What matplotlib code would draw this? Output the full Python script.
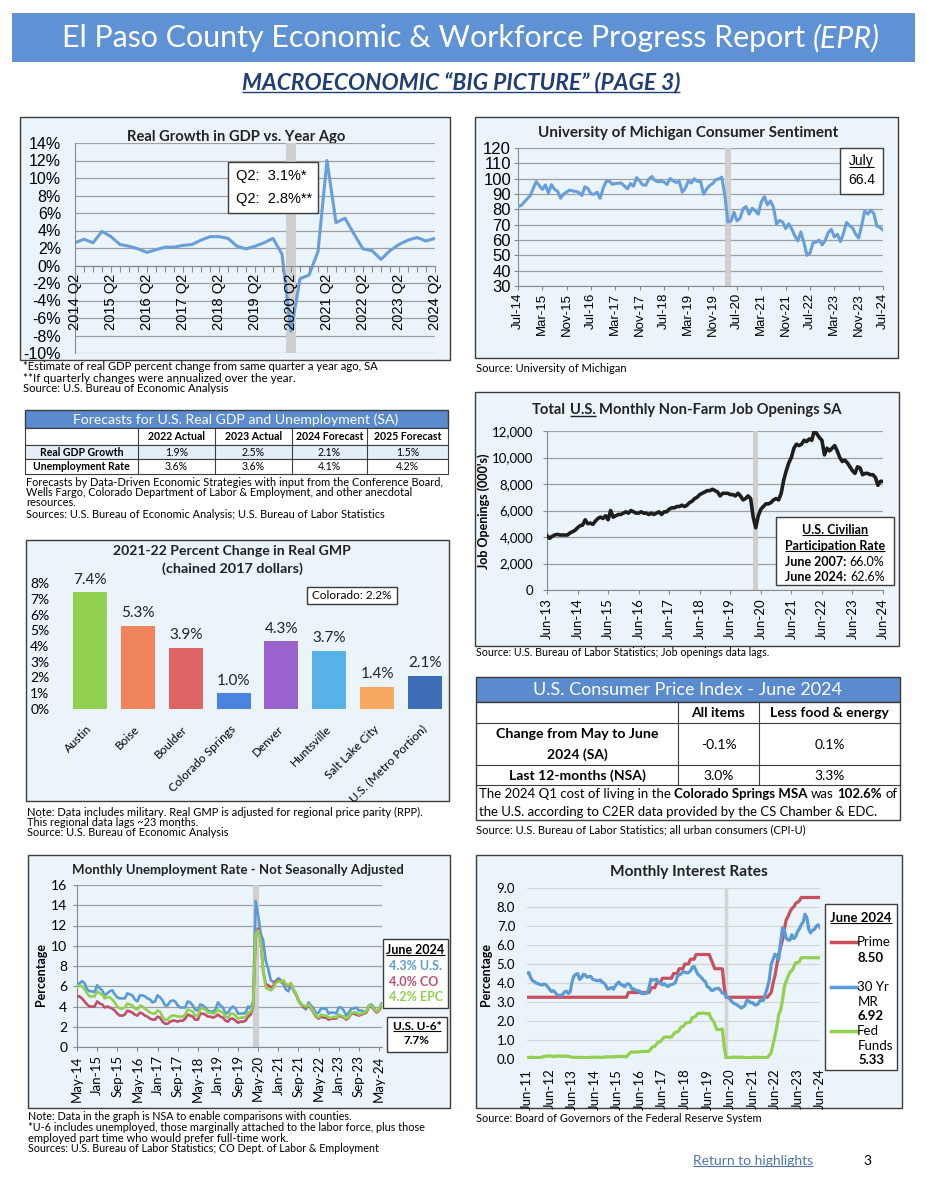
import matplotlib
matplotlib.use('Agg')
import matplotlib.pyplot as plt
from matplotlib.patches import Rectangle

# ======================= DATA =======================
gdp_tick_labels = ['2014 Q2', '2015 Q2', '2016 Q2', '2017 Q2', '2018 Q2', '2019 Q2',
                   '2020 Q2', '2021 Q2', '2022 Q2', '2023 Q2', '2024 Q2']
gdp_growth = [2.6, 3.0, 2.6,
              3.9, 3.3, 2.4, 2.2,
              1.9, 1.5, 1.8, 2.1,
              2.1, 2.3, 2.4, 2.9,
              3.3, 3.3, 3.1, 2.2,
              1.9, 2.2, 2.6, 3.1,
              1.3, -7.5, -1.5, -1.1,
              1.6, 12.0, 4.9, 5.4,
              3.6, 1.9, 1.7, 0.7,
              1.7, 2.4, 2.9, 3.2,
              2.8, 3.1]
gdp_ytick_labels = ['-10%', '-8%', '-6%', '-4%', '-2%', '0%', '2%', '4%', '6%', '8%',
                    '10%', '12%', '14%']

mich_tick_labels = ['Jul-14', 'Mar-15', 'Nov-15', 'Jul-16', 'Mar-17', 'Nov-17', 'Jul-18',
                    'Mar-19', 'Nov-19', 'Jul-20', 'Mar-21', 'Nov-21', 'Jul-22', 'Mar-23',
                    'Nov-23', 'Jul-24']
mich_sentiment = [
    81.8, 82.5, 84.6, 86.9, 88.8, 93.6,
    98.1, 95.4, 93.0, 95.9, 90.7, 96.1, 93.1, 91.9, 87.2, 90.0, 91.3, 92.6,
    92.0, 91.7, 91.0, 89.0, 94.7, 93.5, 90.0, 89.8, 91.2, 87.2, 93.8, 98.2,
    98.5, 96.3, 96.9, 97.0, 97.1, 95.1, 93.4, 96.8, 95.1, 100.7, 98.5, 95.9,
    95.7, 99.7, 101.4, 98.8, 98.0, 98.2, 97.9, 96.2, 100.1, 98.6, 97.5, 98.3,
    91.2, 93.8, 98.4, 97.2, 100.0, 98.2, 98.4, 89.8, 93.2, 95.5, 96.8, 99.3,
    99.8, 101.0, 89.1, 71.8, 72.3, 78.1, 72.5, 74.1, 80.4, 81.8, 76.9, 80.7,
    79.0, 76.8, 84.9, 88.3, 82.9, 85.5, 81.2, 70.3, 72.8, 71.7, 67.4, 70.6,
    67.2, 62.8, 59.4, 65.2, 58.4, 50.0, 51.5, 58.2, 58.6, 59.9, 56.8, 59.7,
    64.9, 67.0, 62.0, 63.7, 59.0, 64.2, 71.5, 69.4, 67.9, 63.8, 61.3, 69.7,
    79.0, 76.9, 79.4, 77.2, 69.1, 68.2, 66.4]

fc_columns = ['2022 Actual', '2023 Actual', '2024 Forecast', '2025 Forecast']
fc_rows = ['Real GDP Growth', 'Unemployment Rate']
fc_gdp = ['1.9%', '2.5%', '2.1%', '1.5%']
fc_unemp = ['3.6%', '3.6%', '4.1%', '4.2%']

gmp_cities = ['Austin', 'Boise', 'Boulder', 'Colorado Springs', 'Denver', 'Huntsville',
              'Salt Lake City', 'U.S. (Metro Portion)']
gmp_change = [7.4, 5.3, 3.9, 1.0, 4.3, 3.7, 1.4, 2.1]
gmp_colors = ['#92D050', '#F0845C', '#DE6464', '#4A84E0', '#9A62CC', '#57B2E8',
              '#F8A860', '#3E6DB5']
gmp_ytick_labels = ['0%', '1%', '2%', '3%', '4%', '5%', '6%', '7%', '8%']

job_tick_labels = ['Jun-13', 'Jun-14', 'Jun-15', 'Jun-16', 'Jun-17', 'Jun-18', 'Jun-19',
                   'Jun-20', 'Jun-21', 'Jun-22', 'Jun-23', 'Jun-24']
job_ytick_labels = ['0', '2,000', '4,000', '6,000', '8,000', '10,000', '12,000']
job_openings = [
    4100, 3900, 4050, 4150, 4200, 4150, 4150,
    4150, 4150, 4300, 4400, 4500, 4700, 4850, 4900, 5300, 5000, 5050, 4950,
    5200, 5400, 5500, 5400, 5600, 5300, 6000, 5500, 5600, 5700, 5700, 5800,
    5900, 5800, 6000, 5900, 5800, 5800, 5900, 5800, 5800, 5700, 5800, 5700,
    5800, 5900, 5700, 5900, 5900, 6100, 6200, 6200, 6300, 6300, 6400, 6300,
    6400, 6600, 6700, 6900, 7000, 7200, 7300, 7400, 7500, 7500, 7600, 7500,
    7400, 7100, 7300, 7300, 7300, 7200, 7200, 7100, 7300, 7100, 6800, 6900,
    7100, 6900, 5500, 4700, 5600, 6100, 6300, 6500, 6500, 6600, 6800, 6900,
    6800, 7300, 8300, 9000, 9600, 10000, 10700, 11000, 10900, 11000, 11300, 11200,
    11400, 11300, 12000, 11800, 11500, 11300, 10200, 10700, 10500, 10700, 10900, 10500,
    10000, 9700, 9800, 9600, 9300, 9000, 8800, 9300, 9200, 8700, 8800, 8800,
    8700, 8700, 8500, 7900, 8200, 8200]

unemp_tick_labels = ['May-14', 'Jan-15', 'Sep-15', 'May-16', 'Jan-17', 'Sep-17', 'May-18',
                     'Jan-19', 'Sep-19', 'May-20', 'Jan-21', 'Sep-21', 'May-22', 'Jan-23',
                     'Sep-23', 'May-24']
unemp_us = [
    6.1, 6.3, 6.5, 6.3, 5.7, 5.5, 5.5, 5.4,
    6.1, 5.8, 5.6, 5.1, 5.3, 5.5, 5.6, 5.2, 4.9, 4.8, 4.8, 4.8,
    5.3, 5.2, 5.1, 4.7, 4.5, 5.1, 5.1, 5.0, 4.8, 4.7, 4.4, 4.5,
    5.1, 4.9, 4.6, 4.1, 4.1, 4.5, 4.6, 4.5, 4.1, 3.9, 3.9, 3.9,
    4.5, 4.4, 4.1, 3.7, 3.6, 4.2, 4.1, 3.9, 3.6, 3.5, 3.5, 3.7,
    4.4, 4.1, 3.9, 3.3, 3.4, 3.8, 4.0, 3.8, 3.3, 3.3, 3.3, 3.4,
    4.0, 3.8, 4.5, 14.4, 13.0, 11.2, 10.5, 8.5, 7.7, 6.6, 6.4, 6.5,
    6.8, 6.6, 6.2, 5.7, 5.5, 6.1, 5.7, 5.3, 4.6, 4.3, 3.9, 3.7,
    4.4, 4.1, 3.8, 3.3, 3.4, 3.8, 3.8, 3.8, 3.3, 3.4, 3.4, 3.3,
    3.9, 3.9, 3.6, 3.1, 3.4, 3.8, 3.8, 3.9, 3.6, 3.6, 3.5, 3.5,
    4.1, 4.2, 3.9, 3.5, 3.7, 4.3]
unemp_co = [
    5.0, 5.0, 4.8, 4.5, 4.2, 4.0, 4.0, 4.0,
    4.5, 4.3, 4.2, 3.9, 4.0, 3.9, 3.8, 3.6, 3.3, 3.1, 3.1, 3.2,
    3.6, 3.5, 3.4, 3.2, 3.1, 3.4, 3.3, 3.1, 3.0, 2.8, 2.7, 2.7,
    3.0, 2.9, 2.5, 2.3, 2.3, 2.5, 2.6, 2.6, 2.5, 2.6, 2.6, 2.8,
    3.2, 3.1, 3.0, 2.7, 2.7, 3.3, 3.3, 3.2, 3.0, 3.0, 2.9, 3.0,
    3.2, 3.0, 2.9, 2.6, 2.5, 2.8, 2.8, 2.6, 2.4, 2.5, 2.5, 2.6,
    3.0, 3.2, 4.0, 11.0, 11.7, 10.5, 7.5, 6.2, 6.1, 5.9, 6.0, 6.5,
    6.6, 6.4, 6.5, 6.2, 6.0, 6.3, 5.6, 5.2, 4.6, 4.2, 4.0, 3.9,
    4.1, 3.8, 3.4, 3.0, 2.8, 3.0, 2.9, 2.9, 2.7, 2.8, 2.8, 2.8,
    3.1, 3.0, 2.9, 2.7, 2.9, 3.3, 3.3, 3.2, 3.1, 3.2, 3.3, 3.4,
    4.0, 4.0, 3.7, 3.4, 3.6, 4.0]
unemp_epc = [
    5.9, 6.1, 6.0, 5.7, 5.3, 5.0, 5.0, 5.0,
    5.5, 5.3, 5.2, 4.8, 4.9, 4.9, 4.7, 4.4, 4.0, 3.8, 3.8, 3.9,
    4.3, 4.2, 4.1, 3.8, 3.7, 4.1, 4.0, 3.8, 3.6, 3.4, 3.3, 3.3,
    3.6, 3.5, 3.0, 2.7, 2.7, 3.0, 3.1, 3.1, 3.0, 3.0, 3.0, 3.2,
    3.7, 3.6, 3.5, 3.1, 3.1, 3.8, 3.8, 3.7, 3.4, 3.4, 3.3, 3.4,
    3.7, 3.5, 3.4, 3.0, 2.9, 3.3, 3.3, 3.1, 2.8, 2.9, 2.9, 3.0,
    3.4, 3.5, 4.2, 11.2, 11.5, 10.5, 7.5, 5.9, 5.7, 5.6, 5.8, 6.3,
    6.5, 6.4, 6.6, 6.2, 6.1, 6.3, 5.7, 5.3, 4.6, 4.2, 4.1, 4.0,
    4.2, 3.9, 3.5, 3.1, 2.9, 3.2, 3.1, 3.1, 2.9, 2.9, 3.0, 2.9,
    3.2, 3.1, 3.0, 2.8, 3.0, 3.4, 3.4, 3.4, 3.2, 3.3, 3.4, 3.5,
    4.1, 4.1, 3.8, 3.5, 3.7, 4.2]

rate_tick_labels = ['Jun-11', 'Jun-12', 'Jun-13', 'Jun-14', 'Jun-15', 'Jun-16', 'Jun-17',
                    'Jun-18', 'Jun-19', 'Jun-20', 'Jun-21', 'Jun-22', 'Jun-23', 'Jun-24']
rate_ytick_labels = ['0.0', '1.0', '2.0', '3.0', '4.0', '5.0', '6.0', '7.0', '8.0', '9.0']
prime_rate = [
    3.25, 3.25, 3.25, 3.25, 3.25, 3.25, 3.25,
    3.25, 3.25, 3.25, 3.25, 3.25, 3.25, 3.25, 3.25, 3.25, 3.25, 3.25, 3.25,
    3.25, 3.25, 3.25, 3.25, 3.25, 3.25, 3.25, 3.25, 3.25, 3.25, 3.25, 3.25,
    3.25, 3.25, 3.25, 3.25, 3.25, 3.25, 3.25, 3.25, 3.25, 3.25, 3.25, 3.25,
    3.25, 3.25, 3.25, 3.25, 3.25, 3.25, 3.25, 3.25, 3.25, 3.25, 3.25, 3.50,
    3.50, 3.50, 3.50, 3.50, 3.50, 3.50, 3.50, 3.50, 3.50, 3.50, 3.50, 3.75,
    3.75, 3.75, 4.00, 4.00, 4.00, 4.25, 4.25, 4.25, 4.25, 4.25, 4.25, 4.50,
    4.50, 4.50, 4.75, 4.75, 4.75, 5.00, 5.00, 5.00, 5.25, 5.25, 5.25, 5.50,
    5.50, 5.50, 5.50, 5.50, 5.50, 5.50, 5.50, 5.25, 5.00, 4.75, 4.75, 4.75,
    4.75, 4.75, 3.78, 3.25, 3.25, 3.25, 3.25, 3.25, 3.25, 3.25, 3.25, 3.25,
    3.25, 3.25, 3.25, 3.25, 3.25, 3.25, 3.25, 3.25, 3.25, 3.25, 3.25, 3.25,
    3.25, 3.25, 3.37, 3.50, 3.98, 4.38, 4.95, 5.50, 5.88, 6.25, 6.82, 7.32,
    7.50, 7.74, 7.92, 8.00, 8.18, 8.25, 8.32, 8.50, 8.50, 8.50, 8.50, 8.50,
    8.50, 8.50, 8.50, 8.50, 8.50, 8.50]
mortgage_30yr = [
    4.51, 4.55, 4.27, 4.11, 4.07, 3.99, 3.96,
    3.92, 3.89, 3.95, 3.91, 3.80, 3.68, 3.55, 3.60, 3.50, 3.38, 3.35, 3.35,
    3.41, 3.53, 3.57, 3.45, 3.54, 4.07, 4.37, 4.46, 4.49, 4.19, 4.26, 4.46,
    4.43, 4.30, 4.34, 4.34, 4.19, 4.16, 4.13, 4.12, 4.16, 4.04, 4.00, 3.86,
    3.67, 3.71, 3.77, 3.67, 3.84, 3.98, 4.05, 3.91, 3.89, 3.80, 3.94, 3.96,
    3.87, 3.66, 3.69, 3.61, 3.60, 3.57, 3.44, 3.44, 3.46, 3.47, 3.77, 4.20,
    4.15, 4.17, 4.20, 4.05, 4.01, 3.90, 3.97, 3.88, 3.81, 3.90, 3.92, 3.95,
    4.03, 4.33, 4.44, 4.47, 4.59, 4.57, 4.53, 4.55, 4.63, 4.83, 4.87, 4.64,
    4.46, 4.37, 4.27, 4.14, 4.07, 3.80, 3.77, 3.62, 3.61, 3.69, 3.70, 3.72,
    3.62, 3.47, 3.45, 3.31, 3.23, 3.16, 3.02, 2.94, 2.89, 2.83, 2.77, 2.68,
    2.74, 2.81, 3.08, 3.06, 2.96, 2.98, 2.87, 2.84, 2.90, 3.07, 3.07, 3.10,
    3.45, 3.76, 4.17, 4.98, 5.23, 5.52, 5.41, 5.22, 6.11, 6.90, 6.80, 6.36,
    6.27, 6.26, 6.54, 6.34, 6.43, 6.71, 6.84, 7.07, 7.20, 7.62, 7.44, 6.82,
    6.64, 6.78, 6.82, 6.99, 7.06, 6.92]
fed_funds = [
    0.09, 0.07, 0.10, 0.08, 0.07, 0.08, 0.07,
    0.08, 0.10, 0.13, 0.14, 0.16, 0.16, 0.16, 0.13, 0.14, 0.16, 0.16, 0.16,
    0.14, 0.15, 0.14, 0.15, 0.11, 0.09, 0.09, 0.08, 0.08, 0.09, 0.08, 0.09,
    0.07, 0.07, 0.08, 0.09, 0.09, 0.10, 0.09, 0.09, 0.09, 0.09, 0.09, 0.12,
    0.11, 0.11, 0.11, 0.12, 0.12, 0.13, 0.13, 0.14, 0.14, 0.12, 0.12, 0.24,
    0.34, 0.38, 0.36, 0.37, 0.37, 0.38, 0.39, 0.40, 0.40, 0.40, 0.41, 0.54,
    0.65, 0.66, 0.79, 0.90, 0.91, 1.04, 1.15, 1.16, 1.15, 1.15, 1.16, 1.30,
    1.41, 1.42, 1.51, 1.69, 1.70, 1.82, 1.91, 1.91, 1.95, 2.19, 2.20, 2.27,
    2.40, 2.40, 2.41, 2.42, 2.39, 2.38, 2.40, 2.13, 2.04, 1.83, 1.55, 1.55,
    1.55, 1.58, 0.65, 0.05, 0.05, 0.08, 0.09, 0.10, 0.09, 0.09, 0.09, 0.09,
    0.09, 0.08, 0.07, 0.07, 0.06, 0.08, 0.10, 0.09, 0.08, 0.08, 0.08, 0.08,
    0.08, 0.08, 0.20, 0.33, 0.77, 1.21, 1.68, 2.33, 2.56, 3.08, 3.78, 4.10,
    4.33, 4.57, 4.65, 4.83, 5.06, 5.08, 5.12, 5.33, 5.33, 5.33, 5.33, 5.33,
    5.33, 5.33, 5.33, 5.33, 5.33, 5.33]

cpi_columns = ['All items', 'Less food & energy']
cpi_month = ['-0.1%', '0.1%']
cpi_year = ['3.0%', '3.3%']

# ======================= FIGURE =======================
W, H = 927, 1200
SANS = ['Lato', 'DejaVu Sans']
ARIAL = ['Liberation Sans', 'DejaVu Sans']
plt.rcParams['font.family'] = SANS
plt.rcParams['axes.unicode_minus'] = False

fig = plt.figure(figsize=(W / 100, H / 100), dpi=100)
fig.patch.set_facecolor('white')
R = fig.canvas.get_renderer()

bg = fig.add_axes([0, 0, 1, 1], zorder=0)
bg.set_xlim(0, W); bg.set_ylim(H, 0); bg.axis('off')
ov = fig.add_axes([0, 0, 1, 1], zorder=10)
ov.set_xlim(0, W); ov.set_ylim(H, 0); ov.axis('off'); ov.patch.set_visible(False)

PANEL = '#EAF4FA'
EDGE = '#3C3C3C'
BLUE_HDR = '#5A8BCF'


def rect(target, x0, y0, x1, y1, fc='none', ec=EDGE, lw=1.0, z=1):
    target.add_patch(Rectangle((x0, y0), x1 - x0, y1 - y0, facecolor=fc,
                               edgecolor=ec, linewidth=lw, zorder=z))


def wpx(t):
    return t.get_window_extent(R).width


_sw = {}


def space_w(size, wgt, sty, fam):
    key = (round(size, 3), wgt, sty, str(fam))
    if key not in _sw:
        t1 = bg.text(0, 0, 'n n', fontsize=size, fontweight=wgt, fontstyle=sty, **fam)
        t2 = bg.text(0, 0, 'nn', fontsize=size, fontweight=wgt, fontstyle=sty, **fam)
        _sw[key] = wpx(t1) - wpx(t2)
        t1.remove(); t2.remove()
    return _sw[key]


def underline(target, t, color=None, lw=0.8):
    bb = t.get_window_extent(R)
    y = H - bb.y0 - 0.10 * t.get_fontsize() * 100 / 72
    target.plot([bb.x0, bb.x1], [y, y], color=color or t.get_color(), lw=lw,
                solid_capstyle='butt', zorder=7)


def rich(target, x, y, parts, size, ha='left', va='center', color='black',
         family=None, fit=None):
    fam = {'family': family} if family else {}
    items = []
    for p in parts:
        s, wgt, sty = p[0], p[1], p[2]
        col = p[3] if len(p) > 3 else color
        core = s.strip()
        t = target.text(0, y, core, fontsize=size, fontweight=wgt, fontstyle=sty,
                        ha='left', va=va, color=col, zorder=6, **fam)
        items.append((t, len(s) - len(s.lstrip()), len(s) - len(s.rstrip()), wgt, sty))

    def layout():
        out = []
        for t, l, r, wgt, sty in items:
            sw = space_w(t.get_fontsize(), wgt, sty, fam)
            out.append((l * sw, wpx(t), r * sw))
        return out
    ws = layout()
    total = sum(a + b + c for a, b, c in ws)
    if fit:
        k = fit / total
        for it in items:
            it[0].set_fontsize(it[0].get_fontsize() * k)
        ws = layout()
        total = sum(a + b + c for a, b, c in ws)
    start = {'left': x, 'center': x - total / 2, 'right': x - total}[ha]
    cx = start
    for it, (a, b, c) in zip(items, ws):
        it[0].set_x(cx + a)
        cx += a + b + c
    return [it[0] for it in items]


def T(target, x, y, s, size, ha='left', va='center', weight='normal', style='normal',
      color='black', family=None, fit=None, ul=False):
    t = rich(target, x, y, [(s, weight, style)], size, ha=ha, va=va, color=color,
             family=family, fit=fit)[0]
    if ul:
        underline(target, t)
    return t


def ax_px(x0, y0, x1, y1):
    a = fig.add_axes([x0 / W, 1 - y1 / H, (x1 - x0) / W, (y1 - y0) / H], zorder=3)
    a.patch.set_visible(False)
    return a


# ---------------- Header ----------------
rect(bg, 12, 13, 915, 62, fc='#5F92D4', ec='none', lw=0)
rich(bg, 471, 38, [('El Paso County Economic & Workforce Progress Report ', 'normal', 'normal'),
                   ('(EPR)', 'normal', 'italic')], 24, ha='center', color='white', fit=818)
sub = T(bg, 461, 83, 'MACROECONOMIC \u201cBIG PICTURE\u201d (PAGE 3)', 13, ha='center',
        weight='bold', style='italic', color='#213E73', fit=437)
underline(bg, sub, lw=1.0)

# ---------------- GDP chart ----------------
rect(bg, 20, 117, 450, 360, fc=PANEL, lw=1.0)
T(bg, 236, 137, 'Real Growth in GDP vs. Year Ago', 11, ha='center', weight='bold',
  color='#222222', fit=218)
ax = ax_px(75, 143, 435, 353)
for s in ('top', 'right'):
    ax.spines[s].set_visible(False)
ax.spines['bottom'].set_position(('data', 0))
ax.spines['bottom'].set_color('#8A8A8A')
ax.spines['left'].set_color('#8A8A8A')
gx = list(range(len(gdp_growth)))
ax.axvspan(23.4, 24.6, color='#CFCFCF', lw=0, zorder=1)
ax.plot(gx, gdp_growth, color='#6A9ED8', lw=2.2, zorder=2, solid_joinstyle='round')
ax.set_xlim(0, len(gdp_growth) - 1)
ax.set_ylim(-10, 14)
ax.set_yticks(range(-10, 15, 2))
ax.set_yticklabels(gdp_ytick_labels, fontsize=11.5, family=ARIAL)
ax.set_xticks(gx)
ax.set_xticklabels([gdp_tick_labels[i // 4] if i % 4 == 0 else '' for i in gx],
                   rotation=90, fontsize=10.5, family=ARIAL)
ax.grid(axis='y', color='#A0A0A0', lw=0.9)
ax.set_axisbelow(True)
ax.xaxis.set_zorder(5)
ax.tick_params(axis='x', length=4, color='#8A8A8A', pad=2)
ax.tick_params(axis='y', length=0, pad=10)
rect(ov, 228, 162, 318, 213, fc='white', ec=EDGE, lw=1.0, z=5)
T(ov, 236, 176, 'Q2:  3.1%*', 10.5, family=ARIAL)
T(ov, 236, 199, 'Q2:  2.8%**', 10.5, family=ARIAL)
T(bg, 23, 367, '*Estimate of real GDP percent change from same quarter a year ago, SA', 7.5,
  fit=354)
T(bg, 23, 378, '**If quarterly changes were annualized over the year.', 7.5, fit=269)
T(bg, 23, 389, 'Source: U.S. Bureau of Economic Analysis', 7.5, fit=205)

# ---------------- Michigan chart ----------------
rect(bg, 475, 117, 898, 358, fc=PANEL, lw=1.0)
T(bg, 688, 133, 'University of Michigan Consumer Sentiment', 11, ha='center',
  weight='bold', color='#222222', fit=301)
ax = ax_px(518, 148, 883, 286)
mx = list(range(len(mich_sentiment)))
ax.axvspan(68, 70, color='#CFCFCF', lw=0, zorder=1)
ax.plot(mx, mich_sentiment, color='#6A9ED8', lw=2.2, zorder=4, solid_joinstyle='round')
ax.set_xlim(0, len(mich_sentiment) - 1)
ax.set_ylim(30, 120)
ax.set_yticks(range(30, 121, 10))
ax.set_yticklabels([str(v) for v in range(30, 121, 10)], fontsize=12, family=ARIAL)
ax.set_xticks(range(0, len(mich_sentiment), 8))
ax.set_xticklabels(mich_tick_labels, rotation=90, fontsize=9.5, family=ARIAL)
ax.grid(axis='y', color='#A0A0A0', lw=0.9)
ax.set_axisbelow(True)
for s in ('top', 'right'):
    ax.spines[s].set_visible(False)
ax.spines['bottom'].set_color('#8A8A8A')
ax.spines['left'].set_color('#8A8A8A')
ax.tick_params(length=3, color='#8A8A8A', pad=2)
rect(ov, 840, 148, 883, 194, fc='white', ec=EDGE, lw=1.0, z=5)
T(ov, 861.5, 161, 'July', 10, ha='center', family=ARIAL, ul=True)
T(ov, 861.5, 180, '66.4', 10, ha='center', family=ARIAL)
T(bg, 476, 368, 'Source: University of Michigan', 7.5, fit=150)

# ---------------- Forecast table ----------------
tx = [25, 138, 215, 292, 367, 448]
ty = [410, 428, 445, 459, 474]
rect(bg, tx[0], ty[0], tx[-1], ty[1], fc=BLUE_HDR, ec=EDGE, lw=1.0)
T(bg, 236, 419.5, 'Forecasts for U.S. Real GDP and Unemployment (SA)', 11, ha='center',
  color='white', fit=325)
rect(bg, tx[0], ty[1], tx[-1], ty[2], fc='#FFFFFF', ec=EDGE, lw=0.8)
rect(bg, tx[0], ty[2], tx[-1], ty[3], fc='#E3EEF8', ec=EDGE, lw=0.8)
rect(bg, tx[0], ty[3], tx[-1], ty[4], fc='#FFFFFF', ec=EDGE, lw=0.8)
for xv in tx[1:-1]:
    bg.plot([xv, xv], [ty[1], ty[4]], color=EDGE, lw=0.8, zorder=2)
for i, lab in enumerate(fc_columns):
    T(bg, (tx[i + 1] + tx[i + 2]) / 2, (ty[1] + ty[2]) / 2, lab, 7.6, ha='center',
      weight='bold')
for r, (lab, vals) in enumerate(zip(fc_rows, [fc_gdp, fc_unemp])):
    yc = (ty[r + 2] + ty[r + 3]) / 2
    T(bg, (tx[0] + tx[1]) / 2, yc, lab, 7.6, ha='center', weight='bold')
    for i, v in enumerate(vals):
        T(bg, (tx[i + 1] + tx[i + 2]) / 2, yc, v, 7.6, ha='center')
T(bg, 26, 482, 'Forecasts by Data-Driven Economic Strategies with input from the Conference '
  'Board,', 8, fit=417)
T(bg, 26, 492.5, 'Wells Fargo, Colorado Department of Labor & Employment, and other anecdotal',
  8, fit=387)
T(bg, 26, 503, 'resources.', 8)
T(bg, 26, 514, 'Sources: U.S. Bureau of Economic Analysis; U.S. Bureau of Labor Statistics', 8,
  fit=361)

# ---------------- GMP bar chart ----------------
rect(bg, 26, 540, 449, 801, fc=PANEL, lw=1.0)
T(bg, 232, 551, '2021-22 Percent Change in Real GMP', 11.5, ha='center', weight='bold',
  color='#222222', fit=237)
T(bg, 232, 569, '(chained 2017 dollars)', 11.5, ha='center', weight='bold', color='#222222',
  fit=141)
ax = ax_px(66, 583, 449, 709)
bars = ax.bar(range(len(gmp_change)), gmp_change, width=0.71, color=gmp_colors, zorder=3)
ax.bar_label(bars, labels=[f'{v:.1f}%' for v in gmp_change], padding=4, fontsize=11,
             color='#222222')
ax.set_xlim(-0.5, len(gmp_change) - 0.5)
ax.set_ylim(0, 8)
ax.set_yticks(range(0, 9))
ax.set_yticklabels(gmp_ytick_labels, fontsize=10)
ax.set_xticks(range(len(gmp_cities)))
ax.set_xticklabels(gmp_cities, rotation=45, ha='right', va='center',
                   rotation_mode='anchor', fontsize=8.5)
for s in ax.spines.values():
    s.set_visible(False)
ax.tick_params(length=0)
ax.tick_params(axis='y', pad=12)
ax.tick_params(axis='x', pad=13)
rect(ov, 307, 587, 397, 604, fc='white', ec=EDGE, lw=1.0, z=5)
T(ov, 352, 595.5, 'Colorado: 2.2%', 8.5, ha='center')
T(bg, 27, 812, 'Note: Data includes military. Real GMP is adjusted for regional price parity '
  '(RPP).', 8, fit=396)
T(bg, 27, 822.5, 'This regional data lags ~23 months.', 8, fit=171)
T(bg, 27, 833, 'Source: U.S. Bureau of Economic Analysis', 8, fit=201)

# ---------------- Job openings chart ----------------
rect(bg, 475, 392, 899, 646, fc=PANEL, lw=1.0)
jt = rich(bg, 687, 410, [('Total ', 'bold', 'normal'), ('U.S.', 'bold', 'normal'),
                         (' Monthly Non-Farm Job Openings SA', 'bold', 'normal')],
          11, ha='center', color='#222222', fit=309)
underline(bg, jt[1], lw=1.0)
ax = ax_px(547, 431, 883, 590)
jx = list(range(len(job_openings)))
ax.axvspan(81, 83, color='#CFCFCF', lw=0, zorder=1)
ax.plot(jx, job_openings, color='#1E1E1E', lw=2.6, zorder=4, solid_joinstyle='round')
ax.set_xlim(0, len(job_openings) - 1)
ax.set_ylim(0, 12000)
ax.set_yticks(range(0, 12001, 2000))
ax.set_yticklabels(job_ytick_labels, fontsize=9.5)
ax.set_xticks(range(0, len(job_openings), 12))
ax.set_xticklabels(job_tick_labels, rotation=90, fontsize=9.5)
ax.grid(axis='y', color='#A0A0A0', lw=0.9)
ax.set_axisbelow(True)
for s in ('top', 'right'):
    ax.spines[s].set_visible(False)
ax.spines['bottom'].set_color('#8A8A8A')
ax.spines['left'].set_color('#8A8A8A')
ax.tick_params(length=3, color='#8A8A8A', pad=3)
ax.tick_params(axis='y', pad=7)
bg.text(484, 511, "Job Openings (000's)", fontsize=9, fontweight='bold', rotation=90,
        ha='center', va='center', zorder=6)
rect(ov, 776, 517, 894, 585, fc='white', ec=EDGE, lw=1.0, z=5)
T(ov, 835, 530, 'U.S. Civilian', 9, ha='center', weight='bold', ul=True)
T(ov, 835, 546, 'Participation Rate', 9, ha='center', weight='bold', ul=True)
rich(ov, 835, 561.5, [('June 2007: ', 'bold', 'normal'), ('66.0%', 'normal', 'normal')], 9,
     ha='center')
rich(ov, 835, 577, [('June 2024: ', 'bold', 'normal'), ('62.6%', 'normal', 'normal')], 9,
     ha='center')
T(bg, 476, 653, 'Source: U.S. Bureau of Labor Statistics; Job openings data lags.', 8, fit=293)

# ---------------- CPI table ----------------
cx = [476, 678, 759, 900]
cy = [677, 702, 723, 765, 785, 820]
rect(bg, cx[0], cy[0], cx[-1], cy[1], fc=BLUE_HDR, ec=EDGE, lw=1.0)
T(bg, 688, 690, 'U.S. Consumer Price Index - June 2024', 13, ha='center', color='white',
  fit=309)
rect(bg, cx[0], cy[1], cx[-1], cy[-1], fc='white', ec=EDGE, lw=1.0)
for yv in cy[2:-1]:
    bg.plot([cx[0], cx[-1]], [yv, yv], color=EDGE, lw=0.8, zorder=2)
for xv in cx[1:-1]:
    bg.plot([xv, xv], [cy[1], cy[4]], color=EDGE, lw=0.8, zorder=2)
for i, lab in enumerate(cpi_columns):
    T(bg, (cx[i + 1] + cx[i + 2]) / 2, 713, lab, 10, ha='center', weight='bold')
T(bg, 577, 734, 'Change from May to June', 10, ha='center', weight='bold', fit=163)
T(bg, 577, 755, '2024 (SA)', 10, ha='center', weight='bold', fit=61)
T(bg, 577, 776, 'Last 12-months (NSA)', 10, ha='center', weight='bold', fit=137)
for i in range(2):
    xc = (cx[i + 1] + cx[i + 2]) / 2
    T(bg, xc, 745, cpi_month[i], 10, ha='center')
    T(bg, xc, 776, cpi_year[i], 10, ha='center')
rich(bg, 479, 794.5, [('The 2024 Q1 cost of living in the ', 'normal', 'normal'),
                      ('Colorado Springs MSA', 'bold', 'normal'),
                      (' was ', 'normal', 'normal'), ('102.6%', 'bold', 'normal'),
                      (' of', 'normal', 'normal')], 10, fit=418)
T(bg, 479, 811.5, 'the U.S. according to C2ER data provided by the CS Chamber & EDC.', 10,
  fit=399)
T(bg, 476, 830, 'Source: U.S. Bureau of Labor Statistics; all urban consumers (CPI-U)', 8,
  fit=330)

# ---------------- Unemployment chart ----------------
rect(bg, 28, 855, 450, 1108, fc=PANEL, lw=1.0)
T(bg, 238, 870, 'Monthly Unemployment Rate - Not Seasonally Adjusted', 10.5, ha='center',
  weight='bold', color='#222222', fit=331)
ax = ax_px(77, 885, 381.5, 1047)
ux = list(range(len(unemp_us)))
ax.axvspan(70, 72.3, color='#CFCFCF', lw=0, zorder=1)
ax.plot(ux, unemp_us, color='#5B9BD5', lw=1.9, zorder=4)
ax.plot(ux, unemp_co, color='#C0506A', lw=1.9, zorder=5)
ax.plot(ux, unemp_epc, color='#92D050', lw=1.9, zorder=6)
ax.set_xlim(0, len(unemp_us) - 1)
ax.set_ylim(0, 16)
ax.set_yticks(range(0, 17, 2))
ax.set_yticklabels([str(v) for v in range(0, 17, 2)], fontsize=10)
ax.set_xticks(range(0, len(unemp_us), 8))
ax.set_xticklabels(unemp_tick_labels, rotation=90, fontsize=9.5)
ax.grid(axis='y', color='#A0A0A0', lw=0.9)
ax.set_axisbelow(True)
for s in ('top', 'right'):
    ax.spines[s].set_visible(False)
ax.spines['bottom'].set_color('#8A8A8A')
ax.spines['left'].set_color('#8A8A8A')
ax.tick_params(length=3, color='#8A8A8A', pad=3)
ax.tick_params(axis='y', pad=4)
bg.text(41, 975, 'Percentage', fontsize=9, fontweight='bold', rotation=90,
        ha='center', va='center', zorder=6)
rect(ov, 383, 939, 448, 1008, fc='white', ec=EDGE, lw=1.0, z=5)
T(ov, 415.5, 950, 'June 2024', 9, ha='center', weight='bold', ul=True)
T(ov, 389, 966, '4.3% U.S.', 9, weight='bold', color='#5B9BD5')
T(ov, 389, 981.5, '4.0% CO', 9, weight='bold', color='#C0506A')
T(ov, 389, 997, '4.2% EPC', 9, weight='bold', color='#92D050')
rect(ov, 387, 1017, 447, 1052, fc='white', ec=EDGE, lw=1.0, z=5)
T(ov, 417, 1027, 'U.S. U-6*', 8.5, ha='center', weight='bold', ul=True)
T(ov, 417, 1041, '7.7%', 8.5, ha='center', weight='bold')
T(bg, 28, 1117, 'Note: Data in the graph is NSA to enable comparisons with counties.', 8,
  fit=324)
T(bg, 28, 1127.5, '*U-6 includes unemployed, those marginally attached to the labor force, '
  'plus those', 8, fit=399)
T(bg, 28, 1138, 'employed part time who would prefer full-time work.', 8, fit=260)
T(bg, 28, 1149, 'Sources: U.S. Bureau of Labor Statistics; CO Dept. of Labor & Employment', 8,
  fit=352)

# ---------------- Interest rates chart ----------------
rect(bg, 476, 855, 902, 1108, fc=PANEL, lw=1.0)
T(bg, 689, 872, 'Monthly Interest Rates', 11, ha='center', weight='bold', color='#222222',
  fit=157)
ax = ax_px(527, 888, 820, 1059)
ix = list(range(len(prime_rate)))
ax.axvline(106, color='#D4D4D4', lw=2.5, zorder=1)
ax.plot(ix, fed_funds, color='#92D050', lw=2.3, zorder=4)
ax.plot(ix, prime_rate, color='#C8505E', lw=2.3, zorder=5)
ax.plot(ix, mortgage_30yr, color='#5B9BD5', lw=2.3, zorder=6)
ax.set_xlim(0, len(prime_rate) - 1)
ax.set_ylim(0, 9)
ax.set_yticks(range(0, 10))
ax.set_yticklabels(rate_ytick_labels, fontsize=9.5)
ax.set_xticks(range(0, len(prime_rate), 12))
ax.set_xticklabels(rate_tick_labels, rotation=90, fontsize=9.5)
ax.grid(axis='y', color='#D6D6D6', lw=0.9)
ax.set_axisbelow(True)
for s in ax.spines.values():
    s.set_visible(False)
ax.tick_params(length=0)
ax.tick_params(axis='y', pad=8.5)
ax.tick_params(axis='x', pad=7)
bg.text(486, 975, 'Percentage', fontsize=9, fontweight='bold', rotation=90,
        ha='center', va='center', zorder=6)
rect(ov, 825, 904, 897, 1070, fc='white', ec=EDGE, lw=1.0, z=5)
T(ov, 861, 918, 'June 2024', 9.5, ha='center', weight='bold', ul=True)
ov.plot([831, 857], [942, 942], color='#C8505E', lw=2.5, zorder=6)
T(ov, 857, 942, 'Prime', 9.5)
T(ov, 858, 958, '8.50', 9.5, weight='bold')
ov.plot([831, 857], [987, 987], color='#5B9BD5', lw=2.5, zorder=6)
T(ov, 857, 987, '30 Yr', 9.5)
T(ov, 858, 1002, 'MR', 9.5)
T(ov, 858, 1016, '6.92', 9.5, weight='bold')
ov.plot([831, 857], [1031, 1031], color='#92D050', lw=2.5, zorder=6)
T(ov, 857, 1031, 'Fed', 9.5)
T(ov, 858, 1046, 'Funds', 9.5)
T(ov, 858, 1060, '5.33', 9.5, weight='bold')
T(bg, 476, 1119, 'Source: Board of Governors of the Federal Reserve System', 8, fit=287)

# ---------------- Footer ----------------
T(bg, 693, 1161, 'Return to highlights', 10, color='#4E74AE', fit=120, ul=True)
T(bg, 867, 1161, '3', 10, ha='center')

fig.savefig('out.png', dpi=100)
